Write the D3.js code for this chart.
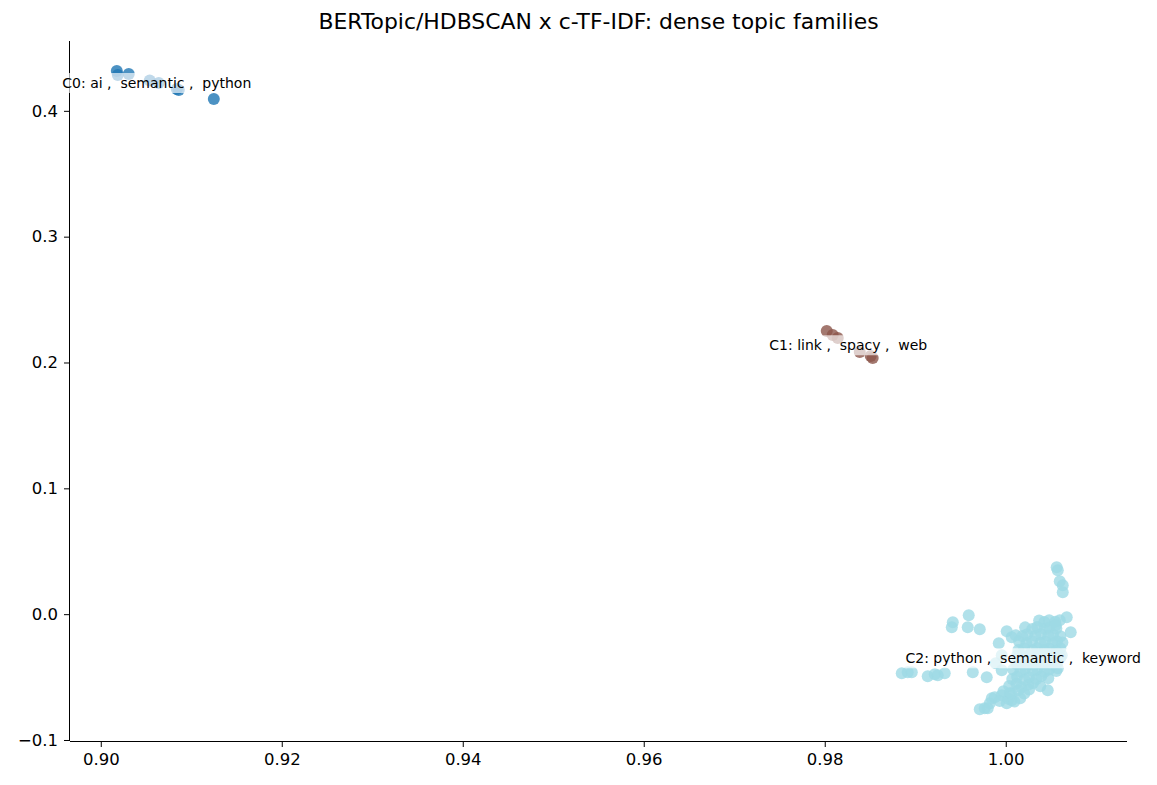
<!DOCTYPE html>
<html>
<head>
<meta charset="utf-8">
<script src="https://cdn.jsdelivr.net/npm/d3@7"></script>
<style>
  body { margin: 0; background: white; }
  text { font-family: "DejaVu Sans", sans-serif; }
</style>
</head>
<body>
<div id="d3-container"></div>
<script>
// cluster points, [x, y]
let c0Points = [
  [0.90177, 0.43164], [0.90188, 0.42846], [0.90309, 0.42925], [0.90541, 0.42409],
  [0.90641, 0.42210], [0.90840, 0.41733], [0.90862, 0.41653], [0.91249, 0.40938]
];
let c1Points = [
  [0.98022, 0.22496], [0.98088, 0.22178], [0.98144, 0.21940],
  [0.98387, 0.20827], [0.98508, 0.20509], [0.98530, 0.20350]
];
let c2Points = [
  // spur at the top
  [1.00563, 0.03736], [1.00575, 0.03498], [1.00597, 0.02623], [1.00630, 0.02305], [1.00630, 0.01749],
  // left upper group
  [0.99415, -0.00636], [0.99404, -0.01033], [0.99591, -0.00079], [0.99580, -0.01033], [0.99713, -0.01192],
  [0.99923, -0.02305], [0.99956, -0.03259], [1.00011, -0.01351], [1.00066, -0.01828], [1.00110, -0.01669],
  // lower left row
  [0.98851, -0.04690], [0.98917, -0.04610], [0.98962, -0.04610], [0.99138, -0.04928], [0.99216, -0.04769],
  [0.99249, -0.04849], [0.99326, -0.04690], [0.99636, -0.04610], [0.99790, -0.05008], [0.99956, -0.04452],
  [0.99890, -0.03895],
  // bottom
  [0.99713, -0.07552], [0.99768, -0.07472], [0.99801, -0.07472], [0.99824, -0.07075], [0.99846, -0.06677],
  [0.99879, -0.06598], [0.99956, -0.06439], [1.00011, -0.07075], [1.00066, -0.06836], [1.00044, -0.06280],
  // dense body
  [0.99934, -0.0690], [1.00030, -0.0672], [1.00095, -0.0695], [1.00160, -0.0668],
  [0.99975, -0.0612], [1.00060, -0.0628], [1.00140, -0.0605], [1.00205, -0.0630], [1.00258, -0.0598],
  [1.00038, -0.0570], [1.00118, -0.0552], [1.00170, -0.0578], [1.00250, -0.0560], [1.00302, -0.0548], [1.00382, -0.0572],
  [1.00072, -0.0515], [1.00126, -0.0498], [1.00206, -0.0520], [1.00258, -0.0502], [1.00338, -0.0516], [1.00392, -0.0494], [1.00470, -0.0510],
  [1.00082, -0.0440], [1.00162, -0.0455], [1.00214, -0.0436], [1.00294, -0.0450], [1.00348, -0.0438], [1.00428, -0.0458], [1.00480, -0.0440], [1.00558, -0.0452],
  [1.00118, -0.0396], [1.00170, -0.0382], [1.00250, -0.0398], [1.00302, -0.0380], [1.00383, -0.0394], [1.00435, -0.0384], [1.00515, -0.0400], [1.00568, -0.0386],
  [1.00126, -0.0328], [1.00206, -0.0342], [1.00258, -0.0326], [1.00338, -0.0340], [1.00392, -0.0322], [1.00470, -0.0338], [1.00524, -0.0330], [1.00604, -0.0344],
  [1.00140, -0.0285], [1.00203, -0.0270], [1.00294, -0.0284], [1.00347, -0.0268], [1.00427, -0.0282], [1.00480, -0.0272], [1.00558, -0.0288], [1.00604, -0.0270],
  [1.00148, -0.0216], [1.00228, -0.0230], [1.00291, -0.0214], [1.00383, -0.0228], [1.00435, -0.0218], [1.00515, -0.0232], [1.00568, -0.0215], [1.00626, -0.0226],
  [1.00184, -0.0174], [1.00236, -0.0160], [1.00327, -0.0172], [1.00391, -0.0158], [1.00471, -0.0170], [1.00523, -0.0162], [1.00604, -0.0175],
  [1.00214, -0.0105], [1.00294, -0.0118], [1.00347, -0.0102], [1.00427, -0.0116], [1.00480, -0.0104], [1.00559, -0.0114],
  [1.00369, -0.0050], [1.00427, -0.0062], [1.00480, -0.0048], [1.00548, -0.0060],
  // right edge
  [1.00674, -0.00238], [1.00718, -0.01431], [1.00597, -0.00477], [1.00552, -0.00874],
  [1.00619, -0.03259], [1.00575, -0.04293], [1.00464, -0.06041]
];

let clusterPoints = [c0Points, c1Points, c2Points];
let clusterColors = ["#1f77b4", "#8c564b", "#9edae5"];
let clusterLabels = ["C0: ai ,  semantic ,  python", "C1: link ,  spacy ,  web", "C2: python ,  semantic ,  keyword"];
let labelX = [0.90619, 0.98260, 1.00193];
let labelY = [0.4221, 0.2138, -0.0350];

let xTicks = [0.90, 0.92, 0.94, 0.96, 0.98, 1.00];
let yTicks = [-0.1, 0.0, 0.1, 0.2, 0.3, 0.4];
let xDomain = [0.8966, 1.0134];
let yDomain = [-0.1008, 0.4555];

let margin = {top: 41, left: 70, right: 30, bottom: 44},
  width = 1157 - margin.left - margin.right,
  height = 785 - margin.top - margin.bottom;

let svg = d3.select('#d3-container')
  .append('svg')
  .attr('width', 1157)
  .attr('height', 785)
  .style('background-color', 'white');

let g = svg.append('g')
  .attr('transform', 'translate(' + margin.left + ',' + margin.top + ')');

let x = d3.scaleLinear().domain(xDomain).range([0, width]),
    y = d3.scaleLinear().domain(yDomain).range([height, 0]);

// points, one group per cluster
clusterPoints.forEach(function(pts, i) {
  g.append('g').selectAll('circle')
    .data(pts)
    .enter().append('circle')
    .attr('cx', function(d) { return x(d[0]); })
    .attr('cy', function(d) { return y(d[1]); })
    .attr('r', 6)
    .attr('fill', clusterColors[i])
    .attr('fill-opacity', 0.8);
});

// axes (only left and bottom spines)
let xAxis = g.append('g')
  .attr('transform', 'translate(0,' + height + ')')
  .call(d3.axisBottom(x).tickValues(xTicks).tickFormat(d3.format('.2f')).tickSizeOuter(0).tickSize(6).tickPadding(6));
let yAxis = g.append('g')
  .call(d3.axisLeft(y).tickValues(yTicks).tickFormat(d3.format('.1f')).tickSizeOuter(0).tickSize(6).tickPadding(6));

[xAxis, yAxis].forEach(function(ax) {
  ax.selectAll('text').style('font-size', '16.5px').attr('fill', 'black');
  ax.selectAll('line').attr('stroke', 'black');
  ax.select('.domain').attr('stroke', 'black');
});
xAxis.select('.domain').attr('d', 'M0,0.5H' + width);
yAxis.select('.domain').attr('d', 'M-0.5,0V' + height);

// cluster labels with a translucent white box
let labels = g.append('g').selectAll('g')
  .data(clusterLabels)
  .enter().append('g')
  .attr('transform', function(d, i) { return 'translate(' + x(labelX[i]) + ',' + y(labelY[i]) + ')'; });

labels.append('rect').attr('class', 'lbox');
labels.append('text')
  .attr('text-anchor', 'middle')
  .attr('dominant-baseline', 'central')
  .style('font-size', '14px')
  .style('white-space', 'pre')
  .text(function(d) { return d; });

labels.each(function() {
  let bb = d3.select(this).select('text').node().getBBox();
  d3.select(this).select('rect')
    .attr('x', bb.x - 3).attr('y', bb.y - 2)
    .attr('width', bb.width + 6).attr('height', bb.height + 4)
    .attr('rx', 3)
    .attr('fill', 'white')
    .attr('fill-opacity', 0.65);
});

// title
svg.append('text')
  .attr('x', margin.left + width / 2)
  .attr('y', 29)
  .attr('text-anchor', 'middle')
  .style('font-size', '21.9px')
  .text('BERTopic/HDBSCAN x c-TF-IDF: dense topic families');
</script>
</body>
</html>
